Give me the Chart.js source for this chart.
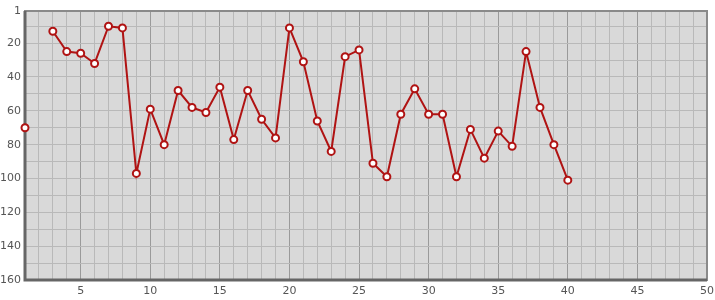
<!DOCTYPE html>
<html>
<head>
<meta charset="utf-8">
<script src="https://cdn.jsdelivr.net/npm/chart.js@4/dist/chart.umd.min.js"></script>
<style>
    html, body { margin: 0; padding: 0; background: #fff; }
    #wrap { width: 715px; height: 300px; }
</style>
</head>
<body>
<div id="wrap"><canvas id="rankChart"></canvas></div>
<script>
// values (x = 1..40, null = no point)
var days = [1, 2, 3, 4, 5, 6, 7, 8, 9, 10,
            11, 12, 13, 14, 15, 16, 17, 18, 19, 20,
            21, 22, 23, 24, 25, 26, 27, 28, 29, 30,
            31, 32, 33, 34, 35, 36, 37, 38, 39, 40];
var ranks = [70, null, 13, 25, 26, 32, 10, 11, 97, 59,
             80, 48, 58, 61, 46, 77, 48, 65, 76, 11,
             31, 66, 84, 28, 24, 91, 99, 62, 47, 62,
             62, 99, 71, 88, 72, 81, 25, 58, 80, 101];
var yTicks = [1, 10, 20, 30, 40, 50, 60, 70, 80, 90, 100, 110, 120, 130, 140, 150, 160];
var yLabels = [1, 20, 40, 60, 80, 100, 120, 140, 160];

var lineColor = '#b01313';

var points = days.map(function(d, i) { return { x: d, y: ranks[i] }; });

var plotBg = {
    id: 'plotBg',
    beforeDraw: function(chart) {
        var a = chart.chartArea, c = chart.ctx;
        c.save();
        c.fillStyle = '#d9d9d9';
        c.fillRect(a.left, a.top, a.right - a.left, a.bottom - a.top);
        c.restore();
    },
    beforeDatasetsDraw: function(chart) {
        var a = chart.chartArea, c = chart.ctx;
        c.save();
        c.strokeStyle = '#8a8a8a';
        c.lineWidth = 2;
        c.strokeRect(a.left, a.top, a.right - a.left, a.bottom - a.top);
        c.strokeStyle = '#666';
        c.lineWidth = 3;
        c.beginPath();
        c.moveTo(a.left, a.top);
        c.lineTo(a.left, a.bottom);
        c.lineTo(a.right, a.bottom);
        c.stroke();
        c.restore();
    }
};

var tickFont = { family: 'DejaVu Sans', size: 11 };

new Chart(document.getElementById('rankChart'), {
    type: 'line',
    data: {
        datasets: [{
            data: points,
            borderColor: lineColor,
            borderWidth: 2,
            pointRadius: 3.5,
            pointBorderWidth: 2,
            pointBackgroundColor: '#fff',
            pointBorderColor: lineColor,
            spanGaps: false,
            tension: 0,
            clip: false
        }]
    },
    options: {
        responsive: true,
        maintainAspectRatio: false,
        animation: false,
        layout: { padding: { top: 11, right: 8, left: 0, bottom: 0 } },
        plugins: { legend: { display: false }, tooltip: { enabled: false } },
        scales: {
            x: {
                type: 'linear',
                min: 1,
                max: 50,
                afterBuildTicks: function(scale) {
                    var t = [];
                    for (var v = 1; v <= 50; v++) t.push({ value: v });
                    scale.ticks = t;
                },
                afterFit: function(scale) {
                    scale.height = 20;
                    scale.paddingRight = 0;
                    scale.paddingLeft = 0;
                },
                ticks: {
                    autoSkip: false,
                    maxRotation: 0,
                    padding: 5,
                    color: '#555',
                    font: tickFont,
                    callback: function(v) { return v % 5 === 0 ? v : ''; }
                },
                grid: {
                    drawTicks: false,
                    color: function(ctx) { return ctx.tick && ctx.tick.value % 5 === 0 ? '#9a9a9a' : '#b9b9b9'; },
                    lineWidth: 1
                },
                border: { display: false }
            },
            y: {
                type: 'linear',
                reverse: true,
                min: 1,
                max: 160,
                afterBuildTicks: function(scale) {
                    scale.ticks = yTicks.map(function(v) { return { value: v }; });
                },
                afterFit: function(scale) { scale.width = 25; },
                ticks: {
                    autoSkip: false,
                    padding: 4,
                    color: '#555',
                    font: tickFont,
                    callback: function(v) { return yLabels.indexOf(v) >= 0 ? v : ''; }
                },
                grid: {
                    drawTicks: false,
                    color: '#b9b9b9',
                    lineWidth: 1
                },
                border: { display: false }
            }
        }
    },
    plugins: [plotBg]
});
</script>
</body>
</html>
